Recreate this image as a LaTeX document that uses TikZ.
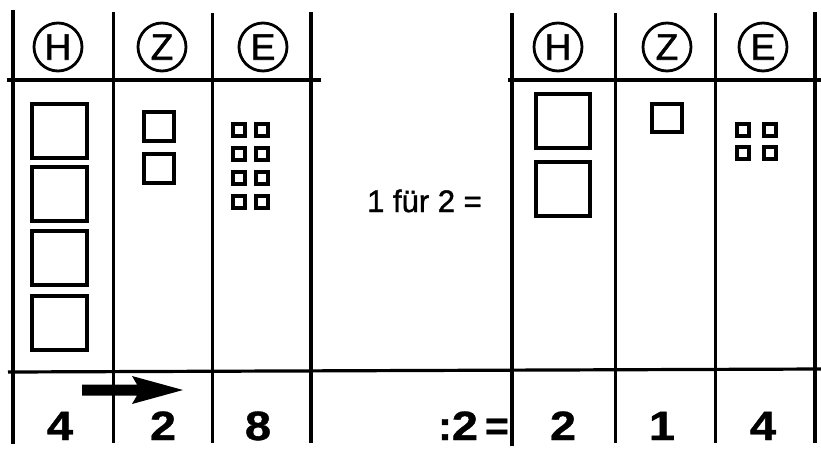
\documentclass[tikz,border=0pt]{standalone}
\usepackage{fontspec}
\setmainfont{Liberation Sans}
\newfontfamily\heavysans[FakeBold=1.5]{Liberation Sans}
\newfontfamily\digitsans[FakeBold=0.8]{Liberation Sans Bold}
\begin{document}
\begin{tikzpicture}[x=1pt,y=-1pt,
  outerrule/.style={line width=4pt},
  innerrule/.style={line width=3pt},
  hrule/.style={line width=3.2pt},
  bigsq/.style={line width=3.2pt},
  smallsq/.style={line width=3.4pt},
  place/.style={circle, draw, line width=2.8pt, minimum size=48pt, inner sep=0pt,
                font=\heavysans\fontsize{37}{37}\selectfont},
  digit/.style={anchor=base, inner sep=0pt, font=\digitsans\fontsize{41}{41}\selectfont},
  label/.style={anchor=base, inner sep=0pt, font=\heavysans\fontsize{31}{31}\selectfont}]
\useasboundingbox (0,0) rectangle (821,448);

% ---- left table: rules ----
\draw[outerrule] (13,10) -- (13,444);
\draw[innerrule] (113,12) -- (113,443);
\draw[innerrule] (212,13) -- (212,443);
\draw[outerrule] (311,12) -- (311,443);
\draw[hrule] (7,80) -- (321,80);

% ---- right table: rules ----
\draw[outerrule] (512,13) -- (512,446);
\draw[innerrule] (615,13) -- (615,443);
\draw[innerrule] (715,13) -- (715,443);
\draw[outerrule] (815,12) -- (815,443);
\draw[hrule] (508,80) -- (821,80);

% common result row rule
\draw[hrule] (8,372) -- (821,369);

% ---- column heads ----
\node[place] (lh) at (58,47) {H};
\node[place] (lz) at (162,47) {Z};
\node[place] (le) at (263,47) {E};
\node[place] (rh) at (558,47) {H};
\node[place] (rz) at (667,47) {Z};
\node[place] (re) at (763,47) {E};

% ---- left blocks: 4 hundreds, 2 tens, 8 ones ----
\foreach \y in {104,167,231,296}
  \draw[bigsq] (32,\y) rectangle ++(55,54);
\foreach \y in {112,154}
  \draw[bigsq] (144,\y) rectangle ++(30,29);
\foreach \y in {124,148,172,196}
  \foreach \x in {233,256}
    \draw[smallsq] (\x,\y) rectangle ++(12,12);

% ---- right blocks: 2 hundreds, 1 ten, 4 ones ----
\foreach \y in {94,162}
  \draw[bigsq] (536,\y) rectangle ++(54,54);
\draw[bigsq] (652,104) rectangle ++(30,28);
\foreach \y in {124,147}
  \foreach \x in {737,764}
    \draw[smallsq] (\x,\y) rectangle ++(12,12);

% ---- exchange arrow ----
\fill (82,384.5) -- (137,384.5) -- (132,376) -- (183,390) -- (132,404)
      -- (137,395.5) -- (82,395.5) -- cycle;

% ---- texts ----
\node[label, anchor=base west] (rule) at (367,212) {1 f\"ur 2 =};

\node[digit] (n4) at (60,440) {\scalebox{1.15}[1]{4}};
\node[digit] (n2) at (163,440) {\scalebox{1.15}[1]{2}};
\node[digit] (n8) at (258,440) {\scalebox{1.15}[1]{8}};
\node[digit, anchor=base east] (div) at (509,440) {:\scalebox{1.15}[1]{2}\,=};
\node[digit] (m2) at (563,440) {\scalebox{1.15}[1]{2}};
\node[digit] (m1) at (662,440) {\scalebox{1.15}[1]{1}};
\node[digit] (m4) at (763,440) {\scalebox{1.15}[1]{4}};
\end{tikzpicture}
\end{document}
